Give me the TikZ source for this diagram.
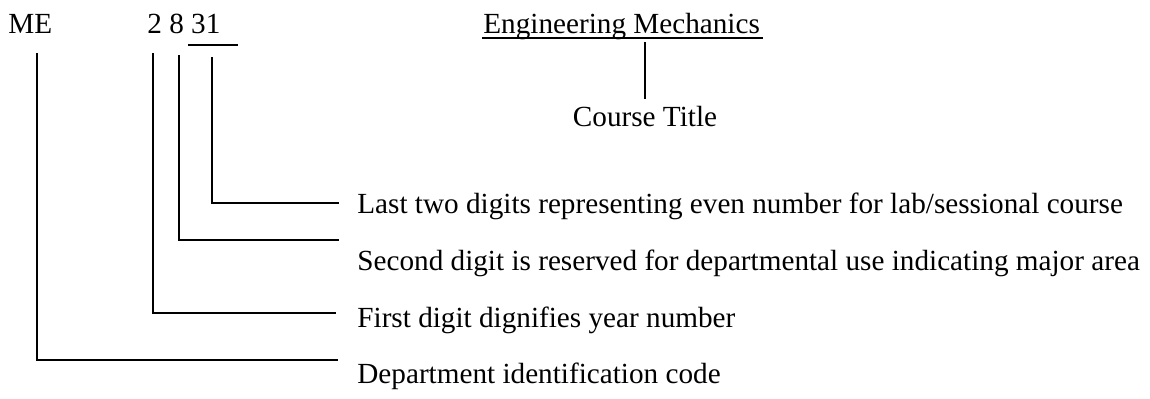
\documentclass[tikz,border=0pt]{standalone}
\usepackage{fontspec}
\setmainfont{Liberation Serif}
\begin{document}
\begin{tikzpicture}[x=0.5pt,y=-0.5pt,
  lbl/.style={anchor=base west, inner sep=0pt, font=\fontsize{14.6}{17}\selectfont},
  ctr/.style={anchor=base, inner sep=0pt, font=\fontsize{14.6}{17}\selectfont},
  conn/.style={draw, line width=1pt, line cap=rect}]
\useasboundingbox (0,0) rectangle (1150,398);
% header texts
\node[lbl] (me) at (8,33) {ME};
\node[lbl] (code) at (147,33) {2 8 31};
\node[lbl] (eng) at (483,33) {Engineering Mechanics};
\node[ctr] (title) at (645,126) {Course Title};
% descriptions
\node[lbl] (last) at (357,213) {Last two digits representing even number for lab/sessional course};
\node[lbl] (second) at (357,270) {Second digit is reserved for departmental use indicating major area};
\node[lbl] (first) at (357,327) {First digit dignifies year number};
\node[lbl] (dept) at (357,383) {Department identification code};
% coordinates
\coordinate (barL) at (189,45);
\coordinate (barR) at (237,45);
\coordinate (ulL) at (483,38);
\coordinate (ulR) at (762,38);
\coordinate (engT) at (645,43);
\coordinate (engB) at (645,98);
\coordinate (meTop) at (37,54);
\coordinate (meEnd) at (337,360);
\coordinate (twoTop) at (153,54);
\coordinate (twoEnd) at (335,313);
\coordinate (eightTop) at (179,56);
\coordinate (eightEnd) at (338,240);
\coordinate (oneTop) at (212,58);
\coordinate (oneEnd) at (338,203);
% connectors
\draw[conn] (barL) -- (barR);
\draw[conn] (ulL) -- (ulR);
\draw[conn] (engT) -- (engB);
\draw[conn] (meTop) |- (meEnd);
\draw[conn] (twoTop) |- (twoEnd);
\draw[conn] (eightTop) |- (eightEnd);
\draw[conn] (oneTop) |- (oneEnd);
\end{tikzpicture}
\end{document}
